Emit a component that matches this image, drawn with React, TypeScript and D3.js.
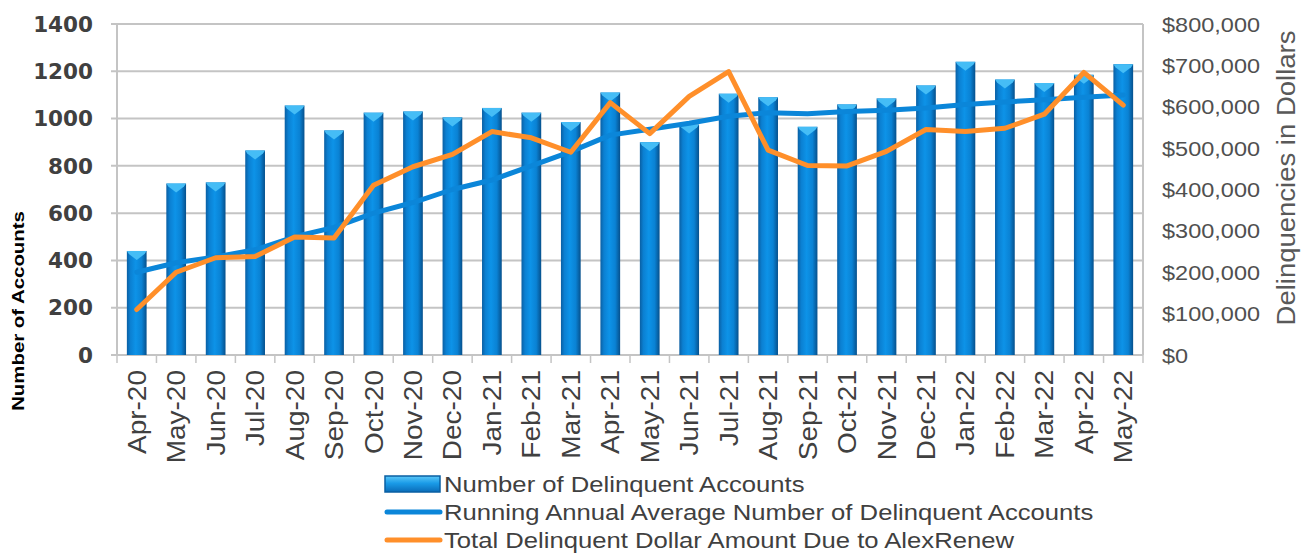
import { useEffect, useRef } from "react";
import * as d3 from "d3";

const months = [
  "Apr-20", "May-20", "Jun-20", "Jul-20", "Aug-20", "Sep-20", "Oct-20", "Nov-20", "Dec-20",
  "Jan-21", "Feb-21", "Mar-21", "Apr-21", "May-21", "Jun-21", "Jul-21", "Aug-21", "Sep-21",
  "Oct-21", "Nov-21", "Dec-21", "Jan-22", "Feb-22", "Mar-22", "Apr-22", "May-22",
];

// number of delinquent accounts (bars, left axis)
const accounts = [
  440, 725, 730, 865, 1055, 950, 1025, 1030, 1005, 1045, 1025, 985, 1110,
  900, 975, 1105, 1090, 965, 1060, 1085, 1140, 1240, 1165, 1150, 1185, 1230,
];

// running annual average (blue line, left axis)
const runningAvg = [
  350, 390, 415, 445, 500, 540, 600, 645, 700, 740, 800, 860, 930,
  955, 980, 1010, 1025, 1020, 1030, 1035, 1045, 1060, 1070, 1080, 1090, 1100,
];

// total delinquent dollars (orange line, right axis)
const dollars = [
  110000, 200000, 235000, 238000, 285000, 283000, 410000, 455000, 485000, 540000, 525000, 490000, 610000,
  535000, 625000, 685000, 495000, 458000, 457000, 492000, 545000, 540000, 548000, 582000, 683000, 604000,
];

const leftTicks = [0, 200, 400, 600, 800, 1000, 1200, 1400];
const rightTicks = [0, 100000, 200000, 300000, 400000, 500000, 600000, 700000, 800000];

const legendItems = [
  { label: "Number of Delinquent Accounts", kind: "bar" },
  { label: "Running Annual Average Number of Delinquent Accounts", kind: "blue" },
  { label: "Total Delinquent Dollar Amount Due to AlexRenew", kind: "orange" },
];

const W = 1301;
const H = 554;
const BLUE = "#0b86d9";
const ORANGE = "#ff8f2a";
const GRID = "#c4c4c4";
const TEXT = "#404040";
const sans = "'Liberation Sans', Arial, sans-serif";
const heavy = "'DejaVu Sans', sans-serif";

export default function App() {
  const svgRef = useRef<SVGSVGElement>(null);

  useEffect(() => {
    document.body.style.margin = "0";
    const svg = d3.select(svgRef.current);
    svg.selectAll("*").remove();

    const plot = { left: 117, right: 1143, top: 24, bottom: 355 };

    const x = d3
      .scaleBand()
      .domain(months)
      .range([plot.left, plot.right])
      .paddingInner(0.5)
      .paddingOuter(0.25);
    const step = x.step();
    const cx = (m: string) => (x(m) as number) + x.bandwidth() / 2;

    const y = d3.scaleLinear().domain([0, 1400]).range([plot.bottom, plot.top]);
    const y2 = d3.scaleLinear().domain([0, 800000]).range([plot.bottom, plot.top]);

    const defs = svg.append("defs");
    const grad = defs
      .append("linearGradient")
      .attr("id", "barGrad")
      .attr("x1", "0%")
      .attr("x2", "100%");
    [
      [0, "#0a5fa3"],
      [0.18, "#0b80d2"],
      [0.45, "#0d93e8"],
      [0.75, "#0a82d4"],
      [1, "#06508c"],
    ].forEach(([o, c]) =>
      grad.append("stop").attr("offset", `${(o as number) * 100}%`).attr("stop-color", c as string)
    );
    const legGrad = defs
      .append("linearGradient")
      .attr("id", "legGrad")
      .attr("x1", "0%")
      .attr("x2", "0%")
      .attr("y1", "0%")
      .attr("y2", "100%");
    [
      [0, "#5cc8f8"],
      [0.45, "#1a9be8"],
      [1, "#0a6cb8"],
    ].forEach(([o, c]) =>
      legGrad.append("stop").attr("offset", `${(o as number) * 100}%`).attr("stop-color", c as string)
    );

    // gridlines
    svg
      .append("g")
      .selectAll("line")
      .data(leftTicks.filter((t) => t > 0))
      .join("line")
      .attr("x1", plot.left - 6)
      .attr("x2", plot.right)
      .attr("y1", (d) => y(d))
      .attr("y2", (d) => y(d))
      .attr("stroke", GRID)
      .attr("stroke-width", 2);

    // plot border sides
    [plot.left, plot.right].forEach((xx) =>
      svg
        .append("line")
        .attr("x1", xx)
        .attr("x2", xx)
        .attr("y1", plot.top)
        .attr("y2", plot.bottom)
        .attr("stroke", GRID)
        .attr("stroke-width", 2)
    );

    // bottom axis and category ticks
    svg
      .append("line")
      .attr("x1", plot.left - 6)
      .attr("x2", plot.right)
      .attr("y1", plot.bottom)
      .attr("y2", plot.bottom)
      .attr("stroke", GRID)
      .attr("stroke-width", 2);
    svg
      .append("g")
      .selectAll("line")
      .data([...months.map((m) => cx(m) - step / 2), plot.right])
      .join("line")
      .attr("x1", (d) => d)
      .attr("x2", (d) => d)
      .attr("y1", plot.bottom)
      .attr("y2", plot.bottom + 8)
      .attr("stroke", GRID)
      .attr("stroke-width", 1.5);

    // bars
    const bars = svg.append("g");
    bars
      .selectAll("rect")
      .data(months)
      .join("rect")
      .attr("x", (d) => x(d) as number)
      .attr("y", (_, i) => y(accounts[i]))
      .attr("width", x.bandwidth())
      .attr("height", (_, i) => plot.bottom - y(accounts[i]))
      .attr("fill", "url(#barGrad)");
    bars
      .selectAll("path")
      .data(months)
      .join("path")
      .attr("d", (d, i) => {
        const p = d3.path();
        const x0 = x(d) as number;
        const top = y(accounts[i]);
        p.moveTo(x0, top);
        p.lineTo(x0 + x.bandwidth(), top);
        p.lineTo(x0 + x.bandwidth() - 2, top + 3);
        p.lineTo(x0 + x.bandwidth() / 2, top + 9);
        p.lineTo(x0 + 2, top + 3);
        p.closePath();
        return p.toString();
      })
      .attr("fill", "#45bdf6");

    // lines
    const lineLeft = d3
      .line<number>()
      .x((_, i) => cx(months[i]))
      .y((d) => y(d));
    const lineRight = d3
      .line<number>()
      .x((_, i) => cx(months[i]))
      .y((d) => y2(d));

    svg
      .append("path")
      .attr("d", lineLeft(runningAvg))
      .attr("fill", "none")
      .attr("stroke", BLUE)
      .attr("stroke-width", 5)
      .attr("stroke-linejoin", "round")
      .attr("stroke-linecap", "round");
    svg
      .append("path")
      .attr("d", lineRight(dollars))
      .attr("fill", "none")
      .attr("stroke", ORANGE)
      .attr("stroke-width", 5)
      .attr("stroke-linejoin", "round")
      .attr("stroke-linecap", "round");

    // left tick labels
    svg
      .append("g")
      .selectAll("text")
      .data(leftTicks)
      .join("text")
      .attr("x", 93)
      .attr("y", (d) => y(d))
      .attr("dy", "0.36em")
      .attr("text-anchor", "end")
      .attr("font-family", heavy)
      .attr("font-size", 21.5)
      .attr("font-weight", "bold")
      .attr("fill", TEXT)
      .text((d) => d);

    // right tick labels
    const fmt = d3.format("$,");
    svg
      .append("g")
      .selectAll("text")
      .data(rightTicks)
      .join("text")
      .attr("transform", (d) => `translate(1162,${y2(d)}) scale(1.12,1)`)
      .attr("dy", "0.36em")
      .attr("font-family", sans)
      .attr("font-size", 21)
      .attr("fill", "#505050")
      .text((d) => fmt(d));

    // month labels
    svg
      .append("g")
      .selectAll("text")
      .data(months)
      .join("text")
      .attr("transform", (d) => `translate(${cx(d)},${plot.bottom + 15}) rotate(-90) scale(1.12,1)`)
      .attr("dy", "0.36em")
      .attr("text-anchor", "end")
      .attr("font-family", sans)
      .attr("font-size", 25)
      .attr("fill", TEXT)
      .text((d) => d);

    // axis titles
    svg
      .append("text")
      .attr("transform", `translate(18,311) rotate(-90) scale(1.2,1)`)
      .attr("dy", "0.36em")
      .attr("text-anchor", "middle")
      .attr("font-family", sans)
      .attr("font-size", 17)
      .attr("font-weight", "bold")
      .attr("fill", "#000")
      .text("Number of Accounts");
    svg
      .append("text")
      .attr("transform", `translate(1286,178) rotate(-90) scale(1.1,1)`)
      .attr("dy", "0.36em")
      .attr("text-anchor", "middle")
      .attr("font-family", sans)
      .attr("font-size", 25)
      .attr("fill", "#595959")
      .text("Delinquencies in Dollars");

    // legend
    const legend = svg.append("g").attr("transform", "translate(385,484)");
    legendItems.forEach((item, i) => {
      const g = legend.append("g").attr("transform", `translate(0,${i * 28})`);
      if (item.kind === "bar") {
        g.append("rect")
          .attr("x", 0)
          .attr("y", -8)
          .attr("width", 55)
          .attr("height", 16)
          .attr("fill", "url(#legGrad)")
          .attr("stroke", "#0a5fa3")
          .attr("stroke-width", 1.5);
      } else {
        g.append("line")
          .attr("x1", 2)
          .attr("x2", 55)
          .attr("y1", 0)
          .attr("y2", 0)
          .attr("stroke", item.kind === "blue" ? BLUE : ORANGE)
          .attr("stroke-width", 5)
          .attr("stroke-linecap", "round");
      }
      g.append("text")
        .attr("transform", "translate(59,0) scale(1.14,1)")
        .attr("dy", "0.36em")
        .attr("font-family", sans)
        .attr("font-size", 22.5)
        .attr("fill", TEXT)
        .text(item.label);
    });
  }, []);

  return (
    <svg
      ref={svgRef}
      width={W}
      height={H}
      viewBox={`0 0 ${W} ${H}`}
      style={{ display: "block", background: "#fff" }}
    />
  );
}
